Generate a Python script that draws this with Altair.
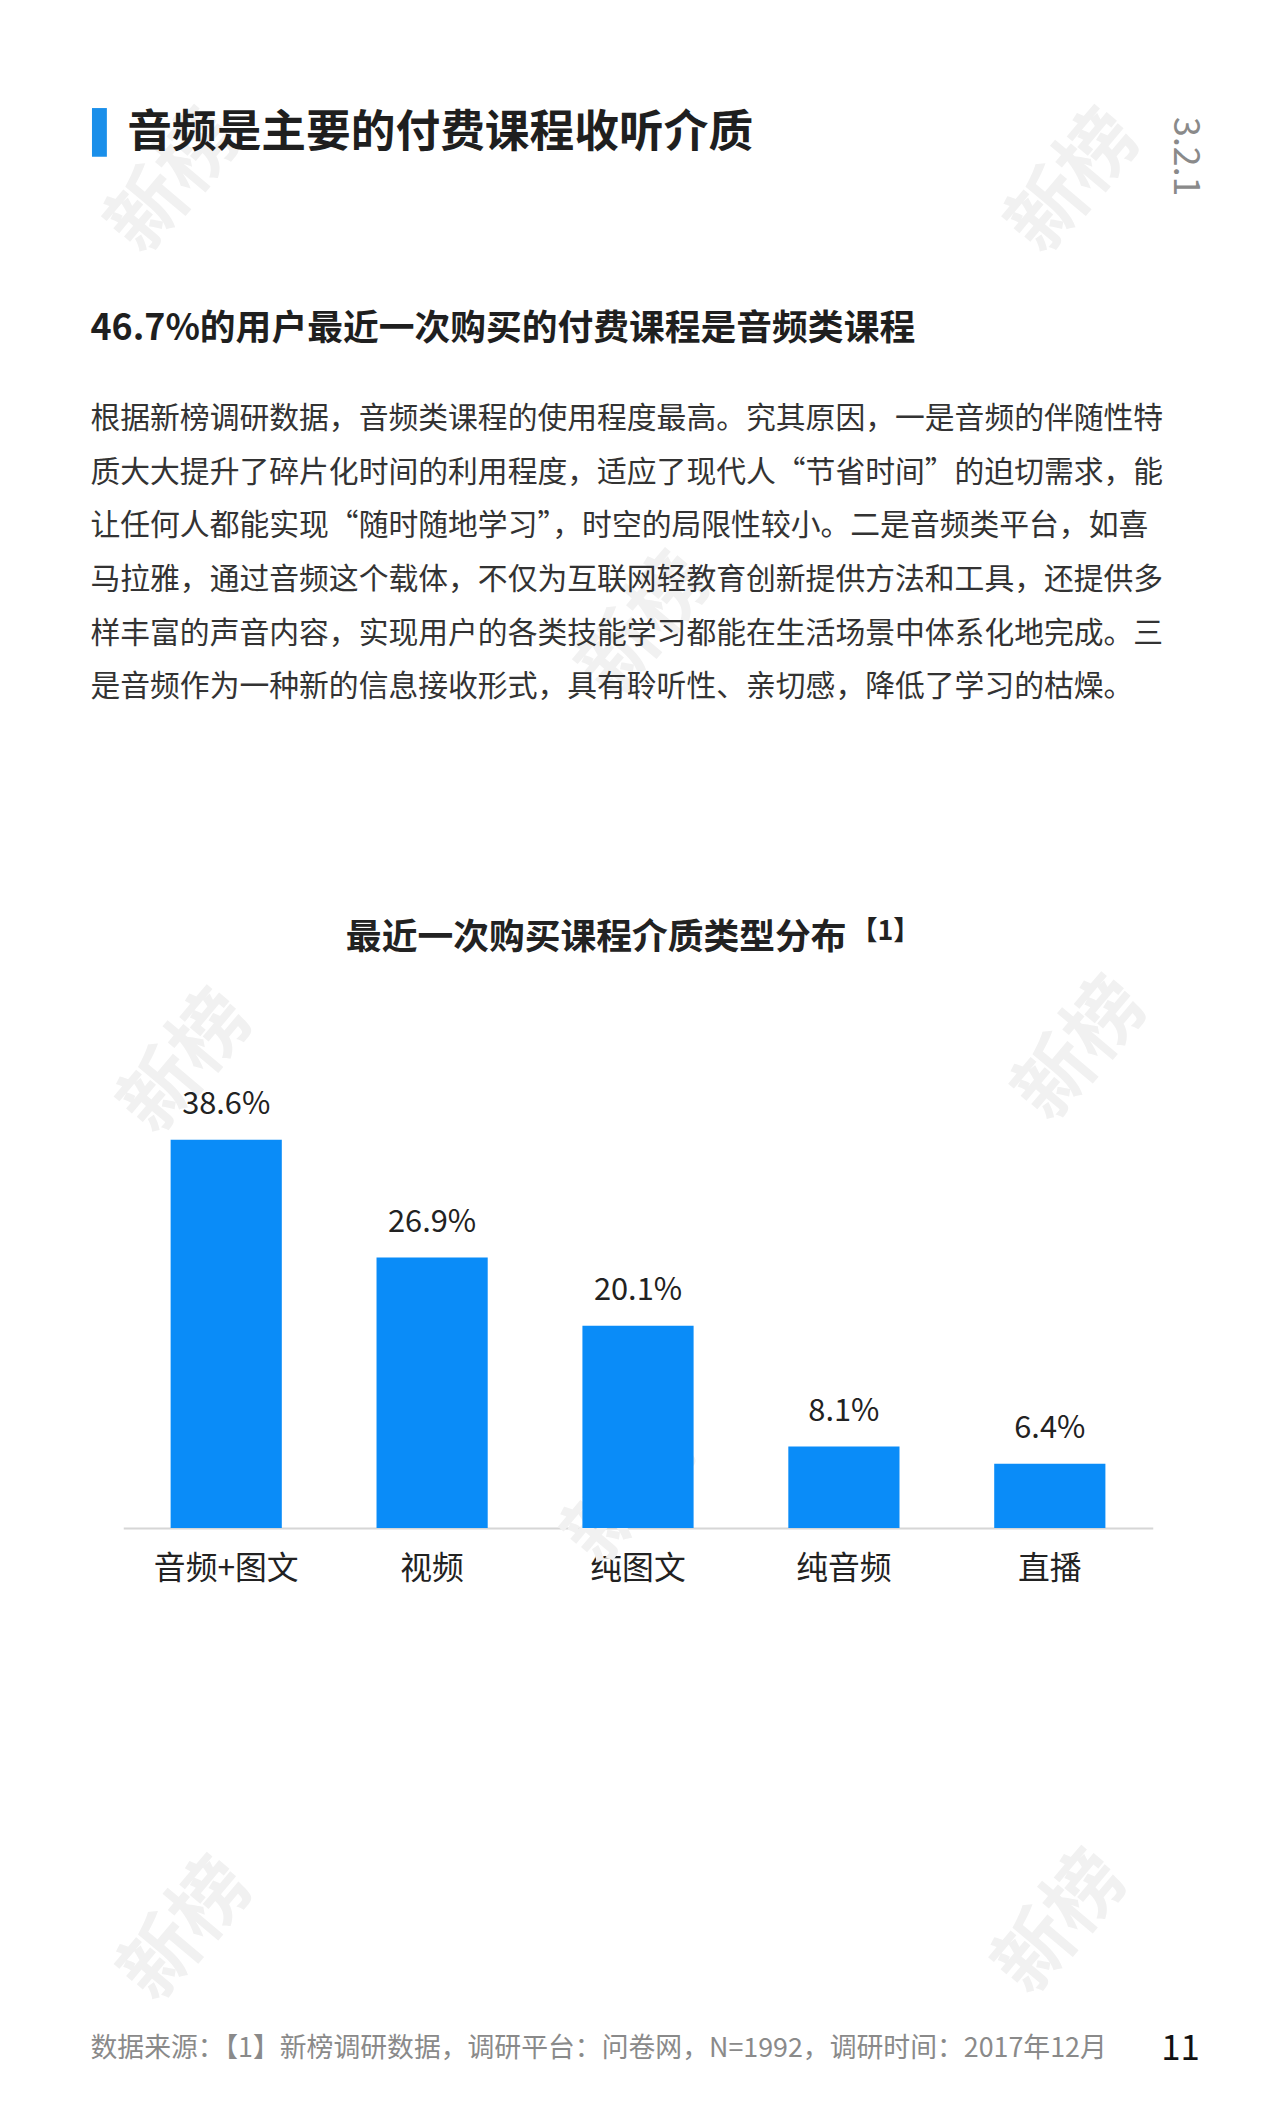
import altair as alt
import pandas as pd

# ---- data ----
categories = ["音频+图文", "视频", "纯图文", "纯音频", "直播"]
shares = [38.6, 26.9, 20.1, 8.1, 6.4]
value_labels = ["38.6%", "26.9%", "20.1%", "8.1%", "6.4%"]

page_title = "音频是主要的付费课程收听介质"
section_no = "3.2.1"
subtitle = "46.7%的用户最近一次购买的付费课程是音频类课程"
paragraph = [
    "根据新榜调研数据，音频类课程的使用程度最高。究其原因，一是音频的伴随性特",
    "质大大提升了碎片化时间的利用程度，适应了现代人“节省时间”的迫切需求，能",
    "让任何人都能实现“随时随地学习”，时空的局限性较小。二是音频类平台，如喜",
    "马拉雅，通过音频这个载体，不仅为互联网轻教育创新提供方法和工具，还提供多",
    "样丰富的声音内容，实现用户的各类技能学习都能在生活场景中体系化地完成。三",
    "是音频作为一种新的信息接收形式，具有聆听性、亲切感，降低了学习的枯燥。",
]
chart_title = "最近一次购买课程介质类型分布"
chart_note = "【1】"
footer = "数据来源：【1】新榜调研数据，调研平台：问卷网，N=1992，调研时间：2017年12月"
page_no = "11"
watermark = "新榜"

FONT = "Noto Sans CJK SC"
BLUE = "#0A8CF8"

df = pd.DataFrame({"cat": categories, "share": shares, "lab": value_labels})

x_enc = alt.X(
    "cat:N",
    sort=categories,
    title=None,
    scale=alt.Scale(paddingInner=0.46, paddingOuter=0.23),
    axis=alt.Axis(
        labelAngle=0,
        labelFontSize=32,
        labelFont=FONT,
        labelColor="#222222",
        labelPadding=26,
        ticks=False,
        domainColor="#d6d6d6",
        domainWidth=2,
    ),
)
y_enc = alt.Y("share:Q", scale=alt.Scale(domain=[0, 40]), axis=None)

bars = alt.Chart(df).mark_bar(color=BLUE).encode(x=x_enc, y=y_enc)
vals = (
    alt.Chart(df)
    .mark_text(font=FONT, fontSize=31, color="#222222", baseline="alphabetic", dy=-26)
    .encode(x=x_enc, y=y_enc, text="lab:N")
)

one = pd.DataFrame({"k": [0]})


def txt(s, x, y, size, weight="normal", color="#222222", align="left", angle=0, baseline="middle"):
    return (
        alt.Chart(one)
        .mark_text(
            text=s,
            font=FONT,
            fontSize=size,
            fontWeight=weight,
            color=color,
            align=align,
            baseline=baseline,
            angle=angle,
        )
        .encode(x=alt.value(x), y=alt.value(y))
    )


layers = []

# faint watermarks
for wx, wy in [(52, -949), (958, -949), (526, -503), (65, -63), (965, -76), (512, 370), (65, 810), (945, 803)]:
    layers.append(txt(watermark, wx, wy, 78, "bold", "#f1f1f1", "center", 310))

# accent bar next to the page title
layers.append(
    alt.Chart(one)
    .mark_rule(color="#1A8FEA", strokeWidth=15)
    .encode(x=alt.value(-24), y=alt.value(-1024), y2=alt.value(-975))
)
layers.append(txt(page_title, 4, -999, 45, "bold", "#1f1f1f"))
layers.append(txt(section_no, 1068, -975, 36, "normal", "#8a8a8a", "center", 90))
layers.append(txt(subtitle, -33, -802, 36, "bold", "#1f1f1f"))

for i, line in enumerate(paragraph):
    layers.append(txt(line, -33, -711 + 54 * i, 30, "normal", "#333333"))

layers.append(txt(chart_title, 224, -189, 36, "bold", "#222222"))
layers.append(txt(chart_note, 732, -195, 27, "bold", "#222222"))

layers.append(txt(footer, -33, 929, 27, "normal", "#8a8a8a"))
layers.append(txt(page_no, 1064, 929, 35, "normal", "#111111", "center"))

chart = (
    alt.layer(*layers, bars, vals)
    .properties(
        width=1036,
        height=405,
        autosize=alt.AutoSizeParams(type="none"),
        padding={"left": 116, "top": 1118, "right": 120, "bottom": 591},
        background="white",
    )
    .configure_view(stroke=None)
)

chart.save("out.html", embed_options={"renderer": "svg", "actions": False})
